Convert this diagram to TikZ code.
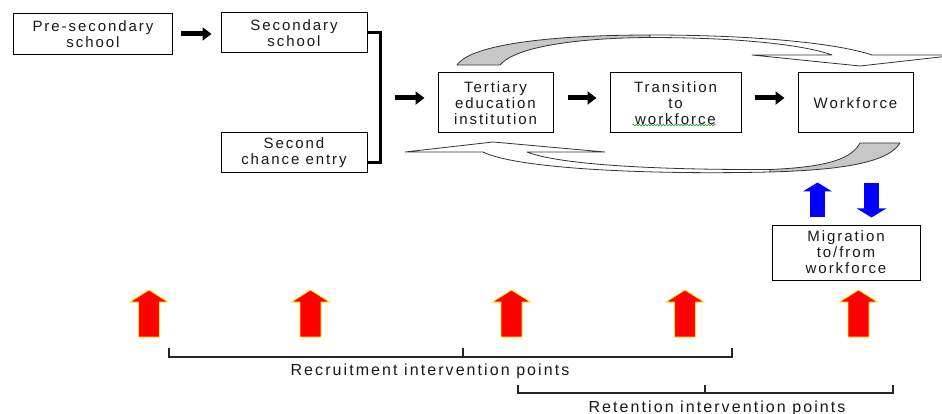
\documentclass[tikz,border=0pt]{standalone}
\usepackage{fontspec}
\setmainfont{Liberation Sans}
\newfontfamily\spacedfont[LetterSpace=13]{Liberation Sans}
\usetikzlibrary{arrows.meta,decorations.pathmorphing,calc}
\newcommand\boxfont{\spacedfont\fontsize{15}{16}\selectfont}
\newcommand\labfont{\spacedfont\fontsize{16}{17}\selectfont}
\begin{document}
\begin{tikzpicture}[x=1pt,y=-1pt,
  box/.style={draw, line width=1pt, align=center, font=\boxfont, inner sep=0pt, text=black!90},
  arr/.style={line width=5pt, -{Triangle[length=9pt,width=13pt]}},
  bluearr/.style={line width=15pt, blue, -{Triangle[length=9pt,width=29pt]}},
  brk/.style={line width=1.2pt, black!85},
  lab/.style={font=\labfont, anchor=base, inner sep=0pt, text=black!90},
  curvewhite/.style={fill=white, draw=black!80, line width=0.8pt, line join=round},
  curvegray/.style={fill=black!22, draw=black!80, line width=0.8pt, line join=round},
  redup/.pic={\path[fill=red, draw=yellow, line width=0.8pt]
     (-10.5,0) -- (-10.5,-35) -- (-19,-35) -- (0,-47) -- (19,-35) -- (10.5,-35) -- (10.5,0) -- cycle;}
]
\fill[white] (0,0) rectangle (942,414);
\useasboundingbox (0,0) rectangle (942,414);

% boxes
\node[box, minimum width=159pt, minimum height=41pt] (pre) at (93,34) {Pre-secondary\\school};
\node[box, minimum width=146pt, minimum height=40pt] (sec) at (294,33) {Secondary\\school};
\node[box, minimum width=146pt, minimum height=40pt] (chance) at (294,153) {Second\\chance entry};
\node[box, minimum width=115pt, minimum height=60pt] (tert) at (495.5,103) {Tertiary\\education\\institution};
\node[box, minimum width=131pt, minimum height=60pt] (trans) at (675.5,103) {Transition\\to\\workforce};
\node[box, minimum width=115pt, minimum height=60pt] (work) at (855.5,103) {Workforce};
\node[box, minimum width=148pt, minimum height=55pt] (mig) at (846,252.5) {Migration\\to/from\\workforce};

% spell-check squiggle
\draw[green!60!black, line width=0.5pt, decorate, decoration={snake, amplitude=0.9pt, segment length=3pt}]
  ([xshift=-43pt,yshift=-22pt]trans.center) -- ([xshift=41pt,yshift=-22pt]trans.center);

% black connectors
\draw[arr, shorten <=7.5pt, shorten >=9pt] (pre.east) -- (pre.east -| sec.west);
\coordinate (J) at (380,98);
\coordinate (cb) at ([yshift=-10pt]chance.east);
\draw[line width=3pt] (sec.east) -- (sec.east -| J) -- (cb -| J) -- (cb);
\draw[arr, shorten <=15pt, shorten >=13pt] (J) -- (J -| tert.west);
\draw[arr, shorten <=14pt, shorten >=13pt] ([yshift=5pt]tert.east) -- ([yshift=5pt]trans.west);
\draw[arr, shorten <=13pt, shorten >=13pt] ([yshift=5pt]trans.east) -- ([yshift=5pt]work.west);

% top curved arrow
\path[curvegray] (457,65) .. controls (472,43) and (560,35) .. (650,35)
  -- (650,37.5) .. controls (575,38) and (515,47) .. (500,65) -- cycle;
\path[curvewhite] (650,35) .. controls (760,35) and (840,44) .. (872,55)
  -- (958,55) -- (860,66) -- (752,55) -- (832,55)
  .. controls (805,45) and (740,37.5) .. (650,37.5) -- cycle;

% bottom curved arrow
\path[curvegray] (860,143) -- (900,143) .. controls (888,163) and (840,170) .. (770,172)
  -- (770,169.5) .. controls (830,167) and (852,158) .. (860,143) -- cycle;
\path[curvewhite] (770,172) .. controls (640,175) and (515,168) .. (483,152)
  -- (405,152) -- (493,142) -- (605,152) -- (527,152)
  .. controls (560,165) and (660,170) .. (770,169.5) -- cycle;

% blue migration arrows
\draw[bluearr, shorten <=7pt, shorten >=49pt] ($(mig.north)+(-28.5,0)$) -- ($(work.south)+(-38,0)$);
\draw[bluearr, shorten <=50pt, shorten >=7pt] ($(work.south)+(16,0)$) -- ($(mig.north)+(25.5,0)$);

% red intervention arrows
\pic at (149,337) {redup};
\pic at (310.5,337) {redup};
\pic at (511.5,337) {redup};
\pic at (685,337) {redup};
\pic at (858.5,337) {redup};

% recruitment bracket
\coordinate (r1) at (169,357);
\coordinate (r2) at (463,357);
\coordinate (r3) at (732,357);
\draw[brk] ([yshift=9pt]r1) -- (r1) -- (r3) -- ([yshift=9pt]r3);
\draw[brk] (r2) -- ([yshift=9pt]r2);
\node[lab] (rlab) at (430,375) {Recruitment intervention points};

% retention bracket
\coordinate (t1) at (518,393);
\coordinate (t2) at (705,393);
\coordinate (t3) at (893,393);
\draw[brk] ([yshift=8pt]t1) -- (t1) -- (t3) -- ([yshift=8pt]t3);
\draw[brk] (t2) -- ([yshift=8pt]t2);
\node[lab] (tlab) at (717,412) {Retention intervention points};
\end{tikzpicture}
\end{document}
